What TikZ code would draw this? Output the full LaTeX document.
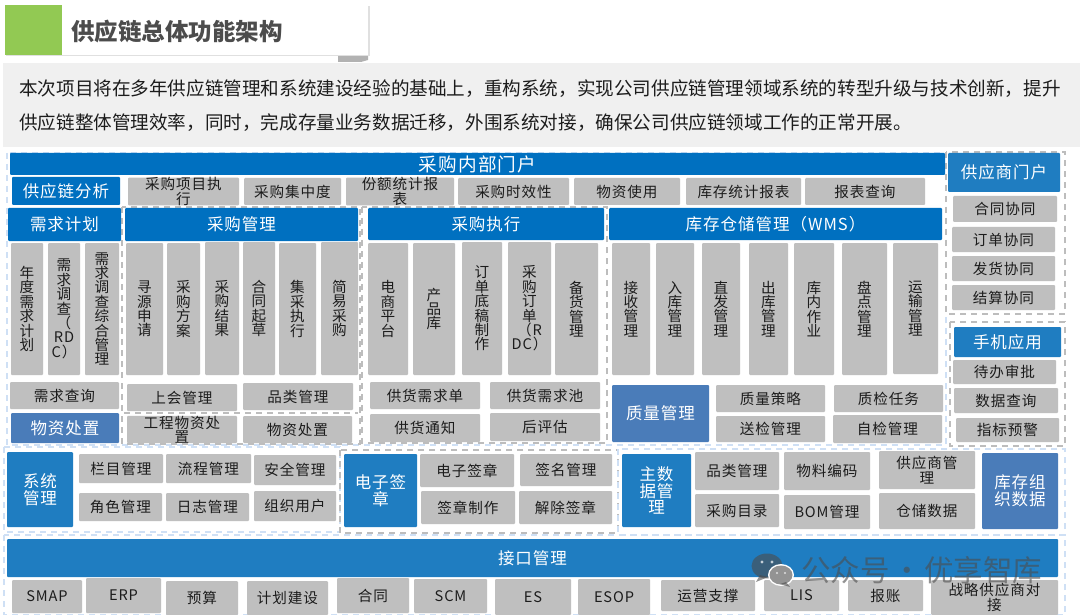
\documentclass[tikz,border=0pt]{standalone}
\usepackage{fontspec}
\setmainfont[LetterSpace=6]{Noto Sans CJK SC}
\newfontfamily\plaincjk{Noto Sans CJK SC}
\definecolor{hblue}{HTML}{0070C0}
\definecolor{mblue}{HTML}{1F7DC1}
\definecolor{sblue}{HTML}{4A7CB9}
\definecolor{gbox}{HTML}{BFBFBF}
\definecolor{ink}{HTML}{1C1C1C}
\definecolor{lframe}{HTML}{CFE0F5}
\definecolor{gframe}{HTML}{BDBDBD}
\definecolor{leaf}{HTML}{92C953}
\newcommand{\tightlines}{\lineskiplimit=-10pt\relax}
\tikzset{
  anybox/.style={inner sep=0pt,rounded corners=1pt,align=center},
  greybox/.style={anybox,fill=gbox,text=ink,font=\fontsize{14.6}{14.4}\selectfont\tightlines},
  headtop/.style={anybox,fill=hblue,text=white,font=\fontsize{16.5}{18}\selectfont\tightlines},
  headmid/.style={anybox,fill=mblue,text=white,font=\fontsize{16.5}{16.5}\selectfont\tightlines},
  headsoft/.style={anybox,fill=sblue,text=white,font=\fontsize{16.5}{16.5}\selectfont\tightlines},
  lightdash/.style={draw=lframe,line width=2pt,dash pattern=on 6pt off 5pt},
  greydash/.style={draw=gframe,line width=2pt,dash pattern=on 6pt off 5pt},
}
\newcommand{\bx}[7]{\node[#2,minimum width={(#5-#3)*1pt},minimum height={(#6-#4)*1pt}] (#1) at ({(#3+#5)/2},{(#4+#6)/2}) {#7};}
\begin{document}
\begin{tikzpicture}[x=1pt,y=-1pt]
\useasboundingbox (0,0) rectangle (1080,615);
\fill[white] (0,0) rectangle (1080,615);
% title
\fill[black!30] (338,55) -- (368,55) -- (368,60) -- (361,62) -- (338,62) -- cycle;
\fill[black!12] (6,6.5) rectangle (369.5,56.5);
\bx{titlebar}{anybox,rounded corners=0pt,fill=white}{5}{5}{368}{55}{}
\bx{titlegreen}{anybox,rounded corners=0pt,fill=leaf}{5}{5}{62}{55}{}
\node[anchor=west,inner sep=0pt,text=black!70,font=\plaincjk\bfseries\fontsize{23.5}{28}\selectfont] (title) at (71,32) {供应链总体功能架构};
% intro
\fill[black!6] (3,63) rectangle (1080,147);
\node[anchor=west,inner sep=0pt,text=ink,font=\plaincjk\fontsize{18.6}{22}\selectfont] (introa) at (19,89) {本次项目将在多年供应链管理和系统建设经验的基础上，重构系统，实现公司供应链管理领域系统的转型升级与技术创新，提升};
\node[anchor=west,inner sep=0pt,text=ink,font=\plaincjk\fontsize{18.6}{22}\selectfont] (introb) at (19,123) {供应链整体管理效率，同时，完成存量业务数据迁移，外围系统对接，确保公司供应链领域工作的正常开展。};
% dashed frames
\draw[lightdash] (7,153) rectangle (946,445);
\draw[greydash] (122,207) rectangle (360,444);
\draw[greydash] (124,413) -- (358,413);
\draw[greydash] (362,207) rectangle (607,443);
\draw[greydash] (946,152) rectangle (1065,314);
\draw[greydash] (950,322) rectangle (1065,446);
\draw[lightdash] (4,447) rectangle (340,532);
\draw[greydash] (340,450) rectangle (618,533);
\draw[lightdash] (618,449) rectangle (1065,535);
\draw[lightdash] (4,535) rectangle (1065,615);
% top row
\bx{portal}{headtop,font=\fontsize{18.6}{20}\selectfont}{10}{153}{945}{175}{采购内部门户}
\bx{sca}{headtop}{12}{177}{120}{205}{供应链分析}
\bx{t1}{greybox}{128}{178}{239}{205}{采购项目执\\行}
\bx{t2}{greybox}{244}{178}{341}{205}{采购集中度}
\bx{t3}{greybox}{346}{178}{454}{205}{份额统计报\\表}
\bx{t4}{greybox}{458}{178}{569}{205}{采购时效性}
\bx{t5}{greybox}{574}{178}{680}{205}{物资使用}
\bx{t6}{greybox}{686}{178}{801}{205}{库存统计报表}
\bx{t7}{greybox}{805}{178}{925}{205}{报表查询}
% demand
\bx{dh}{headtop}{8}{208}{121}{241}{需求计划}
\bx{d1}{greybox}{11}{243}{43}{375}{年\\度\\需\\求\\计\\划}
\bx{d2}{greybox}{48}{243}{80}{375}{需\\求\\调\\查\\（\\RD\\C）}
\bx{d3}{greybox}{85}{243}{119}{375}{需\\求\\调\\查\\综\\合\\管\\理}
\bx{d4}{greybox}{10}{382}{119}{409}{需求查询}
\bx{d5}{headsoft}{11}{413}{119}{443}{物资处置}
% purchasing
\bx{ph}{headtop}{125}{208}{358}{241}{采购管理}
\bx{p1}{greybox}{126}{243}{163}{375}{寻\\源\\申\\请}
\bx{p2}{greybox}{167}{243}{200}{375}{采\\购\\方\\案}
\bx{p3}{greybox}{205}{242}{239}{375}{采\\购\\结\\果}
\bx{p4}{greybox}{243}{242}{275}{375}{合\\同\\起\\草}
\bx{p5}{greybox}{279}{243}{316}{375}{集\\采\\执\\行}
\bx{p6}{greybox}{321}{242}{358}{375}{简\\易\\采\\购}
\bx{p7}{greybox}{127}{384}{237}{411}{上会管理}
\bx{p8}{greybox}{243}{383}{353}{410}{品类管理}
\bx{p9}{greybox}{127}{416}{237}{443}{工程物资处\\置}
\bx{p10}{greybox}{243}{416}{352}{443}{物资处置}
% execution
\bx{eh}{headtop}{368}{208}{604}{240}{采购执行}
\bx{e1}{greybox}{368}{243}{408}{375}{电\\商\\平\\台}
\bx{e2}{greybox}{413}{243}{455}{375}{产\\品\\库}
\bx{e3}{greybox}{462}{242}{502}{375}{订\\单\\底\\稿\\制\\作}
\bx{e4}{greybox}{508}{242}{551}{375}{采\\购\\订\\单\\（R\\DC）}
\bx{e5}{greybox}{555}{243}{598}{375}{备\\货\\管\\理}
\bx{e6}{greybox}{370}{382}{480}{409}{供货需求单}
\bx{e7}{greybox}{490}{382}{600}{409}{供货需求池}
\bx{e8}{greybox}{370}{414}{480}{442}{供货通知}
\bx{e9}{greybox}{490}{413}{600}{441}{后评估}
% warehouse
\bx{wh}{headtop}{609}{208}{942}{240}{库存仓储管理（WMS）}
\bx{w1}{greybox}{612}{243}{650}{375}{接\\收\\管\\理}
\bx{w2}{greybox}{656}{243}{694}{375}{入\\库\\管\\理}
\bx{w3}{greybox}{702}{243}{740}{375}{直\\发\\管\\理}
\bx{w4}{greybox}{749}{243}{788}{375}{出\\库\\管\\理}
\bx{w5}{greybox}{794}{243}{834}{375}{库\\内\\作\\业}
\bx{w6}{greybox}{842}{243}{887}{375}{盘\\点\\管\\理}
\bx{w7}{greybox}{893}{243}{938}{374}{运\\输\\管\\理}
\bx{q0}{headsoft}{612}{385}{709}{442}{质量管理}
\bx{q1}{greybox}{716}{385}{825}{412}{质量策略}
\bx{q2}{greybox}{834}{385}{943}{412}{质检任务}
\bx{q3}{greybox}{716}{416}{825}{442}{送检管理}
\bx{q4}{greybox}{833}{415}{942}{443}{自检管理}
% supplier portal
\bx{sh}{headmid}{948}{153}{1060}{192}{供应商门户}
\bx{s1}{greybox}{953}{196}{1057}{222}{合同协同}
\bx{s2}{greybox}{952}{227}{1055}{252}{订单协同}
\bx{s3}{greybox}{952}{256}{1055}{281}{发货协同}
\bx{s4}{greybox}{952}{285}{1055}{310}{结算协同}
% mobile
\bx{mh}{headmid}{954}{327}{1061}{357}{手机应用}
\bx{m1}{greybox}{953}{360}{1056}{384}{待办审批}
\bx{m2}{greybox}{954}{388}{1058}{413}{数据查询}
\bx{m3}{greybox}{956}{418}{1059}{442}{指标预警}
% system
\bx{yh}{headmid}{7}{452}{73}{527}{系统\\管理}
\bx{y1}{greybox}{79}{454}{163}{483}{栏目管理}
\bx{y2}{greybox}{166}{454}{251}{483}{流程管理}
\bx{y3}{greybox}{254}{455}{336}{485}{安全管理}
\bx{y4}{greybox}{79}{493}{162}{521}{角色管理}
\bx{y5}{greybox}{166}{493}{249}{521}{日志管理}
\bx{y6}{greybox}{254}{491}{336}{521}{组织用户}
% e-sign
\bx{gh}{headmid}{344}{454}{417}{527}{电子签\\章}
\bx{g1}{greybox}{420}{454}{514}{487}{电子签章}
\bx{g2}{greybox}{520}{454}{612}{486}{签名管理}
\bx{g3}{greybox}{421}{491}{515}{524}{签章制作}
\bx{g4}{greybox}{519}{491}{612}{524}{解除签章}
% master data
\bx{zh}{headmid}{622}{454}{691}{527}{主数\\据管\\理}
\bx{z1}{greybox}{695}{452}{779}{490}{品类管理}
\bx{z2}{greybox}{784}{452}{870}{490}{物料编码}
\bx{z3}{greybox}{879}{451}{975}{489}{供应商管\\理}
\bx{z4}{greybox}{695}{494}{779}{527}{采购目录}
\bx{z5}{greybox}{784}{495}{870}{529}{BOM管理}
\bx{z6}{greybox}{879}{493}{975}{529}{仓储数据}
\bx{z7}{headsoft}{982}{453}{1058}{529}{库存组\\织数据}
% interfaces
\bx{ih}{headmid}{7}{539}{1058}{577}{接口管理}
\bx{i1}{greybox}{12}{580}{82}{613}{SMAP}
\bx{i2}{greybox}{86}{578}{161}{613}{ERP}
\bx{i3}{greybox}{166}{581}{238}{615}{预算}
\bx{i4}{greybox}{247}{581}{328}{615}{计划建设}
\bx{i5}{greybox}{337}{578}{409}{613}{合同}
\bx{i6}{greybox}{414}{579}{487}{613}{SCM}
\bx{i7}{greybox}{495}{579}{571}{615}{ES}
\bx{i8}{greybox}{578}{579}{650}{615}{ESOP}
\bx{i9}{greybox}{661}{580}{755}{611}{运营支撑}
\bx{i10}{greybox}{764}{580}{839}{611}{LIS}
\bx{i11}{greybox}{848}{580}{923}{611}{报账}
\bx{i12}{greybox}{931}{580}{1058}{615}{战略供应商对\\接}
% watermark
\begin{scope}[opacity=0.6]
\fill[black!70] (767,566) ellipse (15.5 and 12.5);
\fill[black!70] (760,575) -- (756,582) -- (768,577) -- cycle;
\end{scope}
\fill[white] (781,575) ellipse (13 and 11);
\begin{scope}[opacity=0.6]
\fill[black!70] (781,575) ellipse (11.5 and 9.5);
\fill[black!70] (786,582) -- (790,587) -- (780,584) -- cycle;
\end{scope}
\fill[white,opacity=0.7] (762,562) circle (1.6) (772,562) circle (1.6) (777,573) circle (1.2) (785,573) circle (1.2);
\node[anchor=west,inner sep=0pt,text=black!70,opacity=0.6,font=\plaincjk\fontsize{29.5}{33}\selectfont] (mark) at (801,570) {公众号\hspace{-4pt} · \hspace{-4pt}优享智库};
\end{tikzpicture}
\end{document}
